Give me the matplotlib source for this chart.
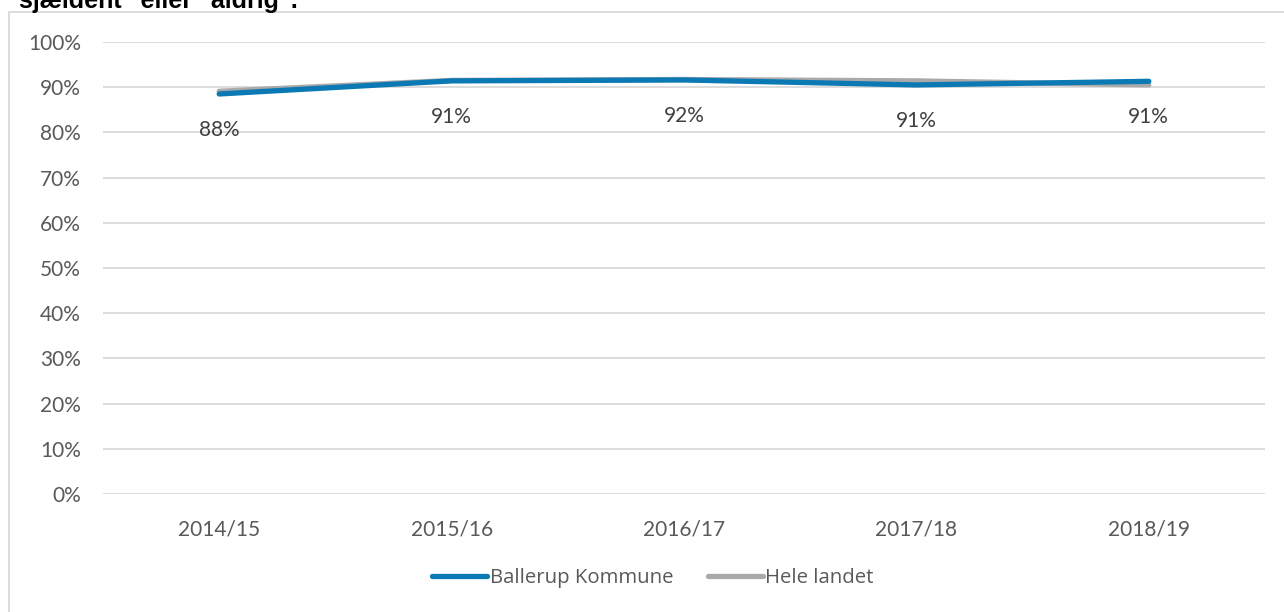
import matplotlib
matplotlib.use("Agg")
import matplotlib.pyplot as plt
from matplotlib.patches import Rectangle
from matplotlib.ticker import FuncFormatter

categories = ["2014/15", "2015/16", "2016/17", "2017/18", "2018/19"]
ballerup = [0.885, 0.914, 0.916, 0.905, 0.913]
hele_landet = [0.891, 0.915, 0.917, 0.914, 0.905]
label_texts = ["88%", "91%", "92%", "91%", "91%"]
series_names = ["Ballerup Kommune", "Hele landet"]
title_text = 'sjældent" eller "aldrig".'

W, H = 1284, 612
fig = plt.figure(figsize=(W / 100, H / 100), dpi=100)

# chart border
fig.patches.append(Rectangle((9 / W, -0.05), 1.1, 1 - 12 / H + 0.05, transform=fig.transFigure,
                             fill=False, edgecolor="#d9d9d9", linewidth=1.3))

# clipped title at top (cut off in the reference as well)
fig.text(19 / W, 1 - 8 / H, title_text, fontsize=18, fontweight="bold",
         family="Liberation Sans", color="black", va="baseline", ha="left")

ax = fig.add_axes([103 / W, 1 - 494 / H, (1265 - 103) / W, (494 - 42) / H])
x = list(range(len(categories)))
ax.plot(x, hele_landet, color="#a9a9a9", linewidth=3.8, solid_capstyle="round",
        label=series_names[1], zorder=3)
ax.plot(x, ballerup, color="#0a79b4", linewidth=3.8, solid_capstyle="round",
        label=series_names[0], zorder=4)

for xi, yi, t in zip(x, ballerup, label_texts):
    ax.annotate(t, (xi, yi), xytext=(0, -26), textcoords="offset points",
                ha="center", va="center", fontsize=15, family="Lato", color="#404040")

ax.set_xlim(-0.5, len(categories) - 0.5)
ax.set_ylim(0, 1)
ax.set_yticks([i / 10 for i in range(11)])
ax.yaxis.set_major_formatter(FuncFormatter(lambda v, p: f"{round(v * 100)}%"))
ax.set_xticks(x)
ax.set_xticklabels(categories)
ax.grid(axis="y", color="#d9d9d9", linewidth=1.3)
ax.set_axisbelow(True)
for s in ax.spines.values():
    s.set_visible(False)
ax.tick_params(length=0, labelsize=15, colors="#595959")
ax.tick_params(axis="y", pad=16)
ax.tick_params(axis="x", pad=18)
for lab in ax.get_xticklabels() + ax.get_yticklabels():
    lab.set_family("Lato")

handles, labels = ax.get_legend_handles_labels()
leg = fig.legend([handles[1], handles[0]], [labels[1], labels[0]], loc="center",
                 bbox_to_anchor=(653 / W, 1 - 578 / H), ncol=2, frameon=False,
                 handlelength=2.7, handletextpad=0.12, columnspacing=1.7,
                 prop={"family": "Open Sans", "size": 14.7})
for t in leg.get_texts():
    t.set_color("#595959")

fig.savefig("out.png", dpi=100)
